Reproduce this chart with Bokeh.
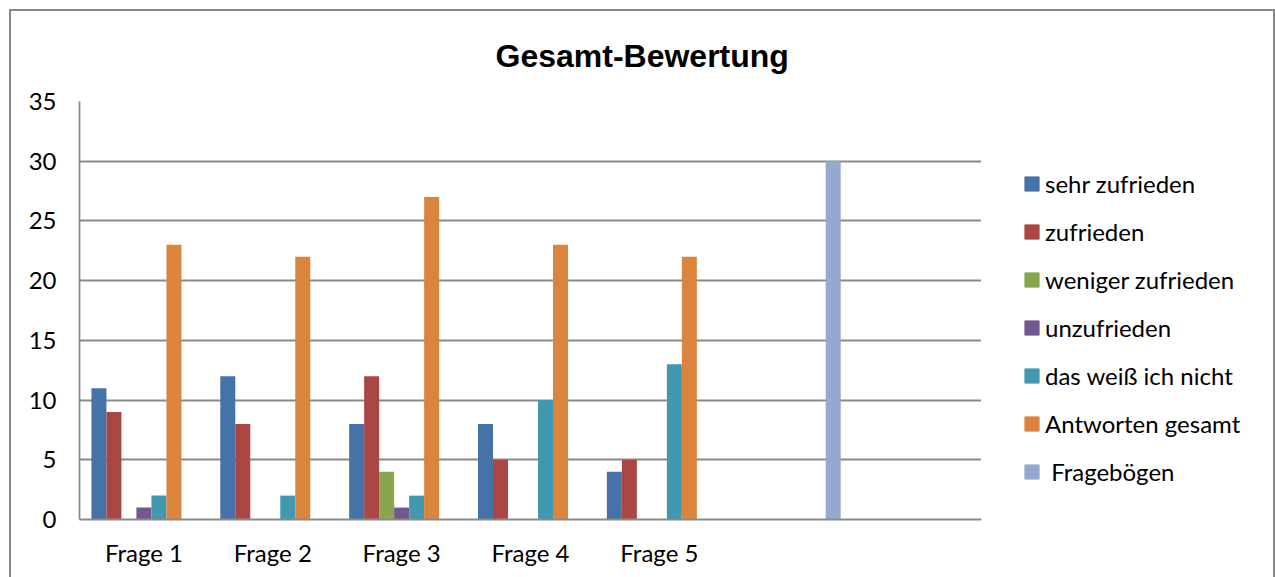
from bokeh.plotting import figure
from bokeh.layouts import row
from bokeh.models import (ColumnDataSource, FactorRange, Range1d, Legend, LegendItem,
                          SingleIntervalTicker)
from bokeh.transform import dodge
from bokeh.embed import file_html
from bokeh.resources import INLINE

# --- data -------------------------------------------------------------
categories = ["Frage 1", "Frage 2", "Frage 3", "Frage 4", "Frage 5", " ", "  "]

series_names = ["sehr zufrieden", "zufrieden", "weniger zufrieden", "unzufrieden",
                "das weiß ich nicht", "Antworten gesamt", " Fragebögen"]

sehr_zufrieden = [11, 12, 8, 8, 4, 0, 0]
zufrieden = [9, 8, 12, 5, 5, 0, 0]
weniger_zufrieden = [0, 0, 4, 0, 0, 0, 0]
unzufrieden = [1, 0, 1, 0, 0, 0, 0]
weiss_nicht = [2, 2, 2, 10, 13, 0, 0]
antworten_gesamt = [23, 22, 27, 23, 22, 0, 0]
frageboegen = [0, 0, 0, 0, 0, 30, 0]

colors = ["#4572A7", "#AA4643", "#89A54E", "#71588F", "#4198AF", "#DB843D", "#93A9CF"]

columns = ["s0", "s1", "s2", "s3", "s4", "s5", "s6"]
source = ColumnDataSource(dict(
    cat=categories,
    s0=sehr_zufrieden, s1=zufrieden, s2=weniger_zufrieden, s3=unzufrieden,
    s4=weiss_nicht, s5=antworten_gesamt, s6=frageboegen,
))

H = 570

# --- main chart -------------------------------------------------------
p = figure(
    width=970, height=H,
    x_range=FactorRange(*categories),
    y_range=Range1d(0, 35),
    output_backend="svg", toolbar_location=None,
    min_border_left=68, min_border_right=0, min_border_top=90, min_border_bottom=62,
    background_fill_color="white", border_fill_color="white",
)
p.outline_line_color = None

grid_col = "#8a8a8a"
p.xgrid.grid_line_color = None
p.ygrid.grid_line_color = grid_col
p.ygrid.grid_line_width = 1.8
p.yaxis.ticker = SingleIntervalTicker(interval=5)

for ax in (p.xaxis[0], p.yaxis[0]):
    ax.axis_line_color = grid_col
    ax.axis_line_width = 1.8
    ax.major_tick_line_color = None
    ax.minor_tick_line_color = None
    ax.major_label_text_font = "Lato"
    ax.major_label_text_font_size = "24px"
    ax.major_label_text_color = "black"

p.yaxis.major_label_standoff = 17
p.xaxis.major_label_standoff = 12

bar_w = 0.1164
for i, col in enumerate(columns):
    p.vbar(x=dodge("cat", (i - 3) * bar_w, range=p.x_range), top=col, width=bar_w,
           bottom=0, source=source, fill_color=colors[i], line_color=None)

p.title.text = "Gesamt-Bewertung"
p.title.text_font = "Liberation Sans"
p.title.text_font_style = "bold"
p.title.text_font_size = "32px"
p.title.text_color = "black"
p.title.text_line_height = 0.6
p.title.align = "left"
p.title.offset = 416
p.title.vertical_align = "top"
p.title.standoff = 51

# --- legend panel -----------------------------------------------------
lg = figure(
    width=292, height=H,
    x_range=Range1d(0, 1), y_range=Range1d(0, 1),
    x_axis_type=None, y_axis_type=None,
    output_backend="svg", toolbar_location=None,
    min_border=0, background_fill_color="white", border_fill_color="white",
)
lg.outline_line_color = None
lg.grid.visible = False

# swatch renderers sit outside the visible range; only their legend glyphs show
swatches = []
for c in colors:
    src = ColumnDataSource(dict(x=[-1.0], top=[-1.0]))
    swatches.append(lg.vbar(x="x", top="top", width=0.1, source=src,
                            fill_color=c, line_color=None))

legend = Legend(
    items=[LegendItem(label=n, renderers=[r]) for n, r in zip(series_names, swatches)],
    location=(41, 32.5),
    padding=0, margin=0, spacing=17,
    glyph_width=19, glyph_height=19, label_height=31,
    label_standoff=4,
    label_text_font="Lato", label_text_font_size="24px", label_text_color="black",
    border_line_color=None, background_fill_alpha=0,
)
lg.add_layout(legend)

layout = row(p, lg, spacing=0)
layout.styles = {
    "margin-left": "9px", "margin-top": "9px",
    "border-left": "2px solid #888888", "border-top": "2px solid #888888",
    "border-right": "2px solid #888888",
}

open("out.html", "w").write(file_html(layout, INLINE))
